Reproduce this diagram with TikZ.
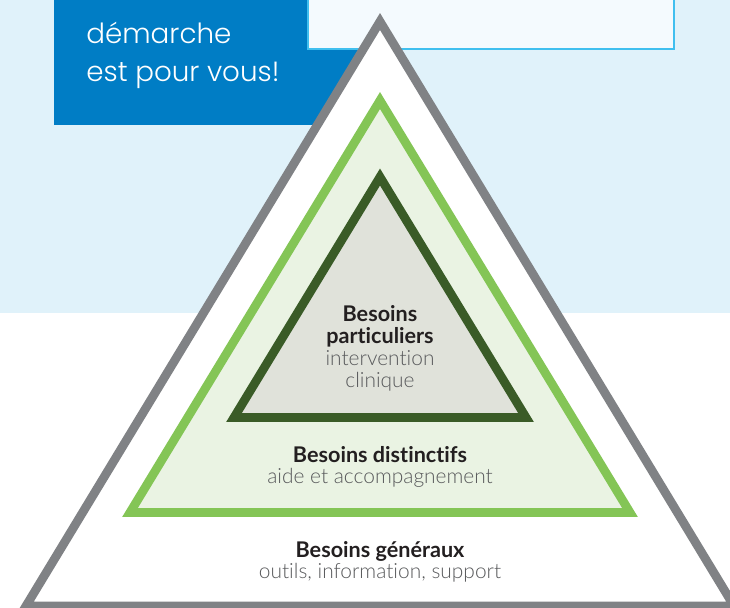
\documentclass[tikz,border=0pt]{standalone}
\usepackage{fontspec}
\setmainfont{Lato}[Ligatures=NoCommon]
\newfontfamily\titlefont{Poppins Light}
\newfontfamily\lightfont{Lato Light}[Ligatures=NoCommon]
\usepackage{xcolor}
\usetikzlibrary{positioning}

\definecolor{fundo}{HTML}{E0F2FA}
\definecolor{azul}{HTML}{007DC5}
\definecolor{caixaclara}{HTML}{F4FAFE}
\definecolor{bordaclara}{HTML}{40BFEF}
\definecolor{cinza}{HTML}{808285}
\definecolor{verdeclaro}{HTML}{84C556}
\definecolor{fundoverde}{HTML}{EAF3E3}
\definecolor{verdeescuro}{HTML}{3A5B27}
\definecolor{fundocinza}{HTML}{E0E2DA}
\definecolor{textoescuro}{HTML}{231F20}
\definecolor{textocinza}{HTML}{58595B}

\begin{document}
\begin{tikzpicture}[x=0.02cm,y=-0.02cm,
  nivel/.style={line width=5pt,line join=miter},
  titulo/.style={font=\fontsize{12.3}{12.2}\selectfont\bfseries,text=textoescuro,align=center,inner sep=0pt,anchor=base},
  subtitulo/.style={font=\lightfont\fontsize{11.9}{12.4}\selectfont,text=textocinza,align=center,inner sep=0pt,anchor=base}]

% Fundo
\clip (0,0) rectangle (730,608);
\fill[fundo] (0,0) rectangle (730,313);
\fill[white] (0,313) rectangle (730,608);

% Caixas do topo
\fill[azul] (54,-10) rectangle (380,125);
\filldraw[fill=caixaclara,draw=bordaclara,line width=0.6pt] (308,-10) rectangle (674,49);

% Frase na caixa azul (base = última linha)
\node[font=\titlefont\fontsize{15.8}{22}\selectfont,text=white,align=left,inner sep=0pt,anchor=base west] (frase) at (86,82) {démarche\\est pour vous!};

% Vértices dos triângulos
\coordinate (G1) at (380,21.5);
\coordinate (G2) at (26,606);
\coordinate (G3) at (734,606);
\coordinate (V1) at (380,100.5);
\coordinate (V2) at (130,512.5);
\coordinate (V3) at (630,512.5);
\coordinate (E1) at (380,177);
\coordinate (E2) at (234,417.5);
\coordinate (E3) at (526,417.5);

% Triângulos
\draw[nivel,draw=cinza,fill=white] (G1) -- (G2) -- (G3) -- cycle;
\draw[nivel,draw=verdeclaro,fill=fundoverde] (V1) -- (V2) -- (V3) -- cycle;
\draw[nivel,draw=verdeescuro,fill=fundocinza] (E1) -- (E2) -- (E3) -- cycle;

% Textos dos níveis
\node[titulo] (partTit) at (380,343) {Besoins\\particuliers};
\node[subtitulo] (partSub) at (380,387) {intervention\\clinique};
\node[titulo] (distTit) at (380,462) {Besoins distinctifs};
\node[subtitulo] (distSub) at (380,483) {aide et accompagnement};
\node[titulo] (gerTit) at (380,557) {Besoins généraux};
\node[subtitulo] (gerSub) at (380,578) {outils, information, support};

\end{tikzpicture}
\end{document}
